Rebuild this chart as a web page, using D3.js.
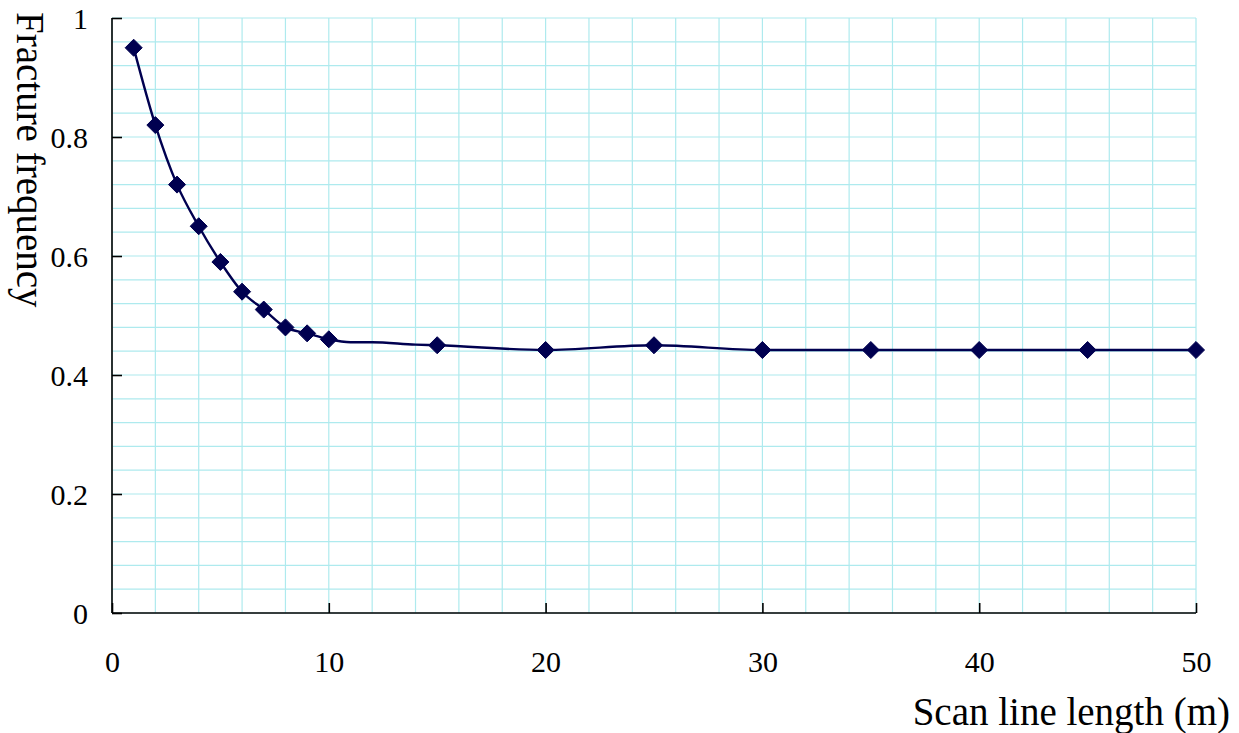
<!DOCTYPE html>
<html>
<head>
<meta charset="utf-8">
<script src="https://cdn.jsdelivr.net/npm/d3@7"></script>
<style>
  html, body { margin: 0; padding: 0; background: #fff; }
  svg { display: block; }
  text { font-family: "Liberation Serif", "Times New Roman", serif; fill: #000; }
</style>
</head>
<body>
<svg id="chart" width="1239" height="733"></svg>
<script>
// Measured points (diamond markers)
const scanLength = [1, 2, 3, 4, 5, 6, 7, 8, 9, 10, 15, 20, 25, 30, 35, 40, 45, 50];
const frequency  = [0.95, 0.82, 0.72, 0.65, 0.59, 0.54, 0.51, 0.48, 0.47, 0.46,
                    0.45, 0.442, 0.45, 0.442, 0.442, 0.442, 0.442, 0.442];

// Trace of the connecting curve (includes unmarked vertices between 10 and 15 m)
const traceLength = [1, 2, 3, 4, 5, 6, 7, 8, 9, 10, 11, 12, 14, 15, 20, 25, 30, 35, 40, 45, 50];
const traceFreq   = [0.95, 0.82, 0.72, 0.65, 0.59, 0.54, 0.51, 0.48, 0.47, 0.46,
                     0.455, 0.455, 0.451, 0.45, 0.442, 0.45, 0.442, 0.442, 0.442, 0.442, 0.442];

const xTicks = [0, 10, 20, 30, 40, 50];
const yTicks = [0, 0.2, 0.4, 0.6, 0.8, 1];
const xGrid = d3.range(0, 51, 2);
const yGrid = d3.range(0, 1.0001, 0.04);

const xLabel = "Scan line length (m)";
const yLabel = "Fracture frequency";

const svg = d3.select("#chart");
const plotLeft = 112, plotRight = 1196, plotTop = 18, plotBottom = 613;

const x = d3.scaleLinear().domain([0, 50]).range([plotLeft, plotRight]);
const y = d3.scaleLinear().domain([0, 1]).range([plotBottom, plotTop]);

const ink = "#000050";
const gridColor = "#aeeaee";
const serif = '"Liberation Serif", "Times New Roman", serif';

// Grid
const grid = svg.append("g");
grid.selectAll("line.v").data(xGrid).join("line").attr("class", "v")
  .attr("x1", d => x(d)).attr("x2", d => x(d))
  .attr("y1", plotTop).attr("y2", plotBottom)
  .attr("stroke", gridColor).attr("stroke-width", 1.2);
grid.selectAll("line.h").data(yGrid).join("line").attr("class", "h")
  .attr("x1", plotLeft).attr("x2", plotRight)
  .attr("y1", d => y(d)).attr("y2", d => y(d))
  .attr("stroke", gridColor).attr("stroke-width", 1.2);

// Axes with inward ticks
const xAxis = d3.axisBottom(x).tickValues(xTicks).tickSize(-10).tickPadding(38)
  .tickFormat(d3.format("d"));
const yAxis = d3.axisLeft(y).tickValues(yTicks).tickSize(-10).tickPadding(24)
  .tickFormat(d => d === 0 ? "0" : d === 1 ? "1" : d3.format(".1f")(d));

const gx = svg.append("g").attr("transform", `translate(0,${plotBottom})`).call(xAxis);
const gy = svg.append("g").attr("transform", `translate(${plotLeft},0)`).call(yAxis);

gx.select(".domain").attr("d", `M${plotLeft},0H${plotRight}`);
gy.select(".domain").attr("d", `M0,${plotTop}V${plotBottom}`);
[gx, gy].forEach(g => {
  g.attr("font-family", serif).attr("font-size", 30);
  g.select(".domain").attr("stroke", "#000").attr("stroke-width", 1.6);
  g.selectAll(".tick line").attr("stroke", "#000").attr("stroke-width", 1.6);
  g.selectAll(".tick text").attr("fill", "#000");
});
gy.selectAll(".tick text").attr("dy", "0.35em");

// Curve
const line = d3.line()
  .x((d, i) => x(traceLength[i]))
  .y(d => y(d))
  .curve(d3.curveMonotoneX);

svg.append("path")
  .datum(traceFreq)
  .attr("d", line)
  .attr("fill", "none")
  .attr("stroke", ink)
  .attr("stroke-width", 2.4);

// Diamond markers
const diamond = d3.symbol().type(d3.symbolDiamond2).size(185);
svg.append("g").selectAll("path")
  .data(frequency)
  .join("path")
  .attr("d", diamond)
  .attr("transform", (d, i) => `translate(${x(scanLength[i])},${y(d)})`)
  .attr("fill", ink)
  .attr("stroke", ink)
  .attr("stroke-width", 1)
  .attr("stroke-linejoin", "round");

// Axis titles
svg.append("text")
  .attr("x", 1230).attr("y", 725)
  .attr("text-anchor", "end")
  .style("font-size", "39px")
  .text(xLabel);

svg.append("text")
  .attr("transform", "translate(17,12) rotate(90)")
  .attr("text-anchor", "start")
  .style("font-size", "39px")
  .text(yLabel);
</script>
</body>
</html>
